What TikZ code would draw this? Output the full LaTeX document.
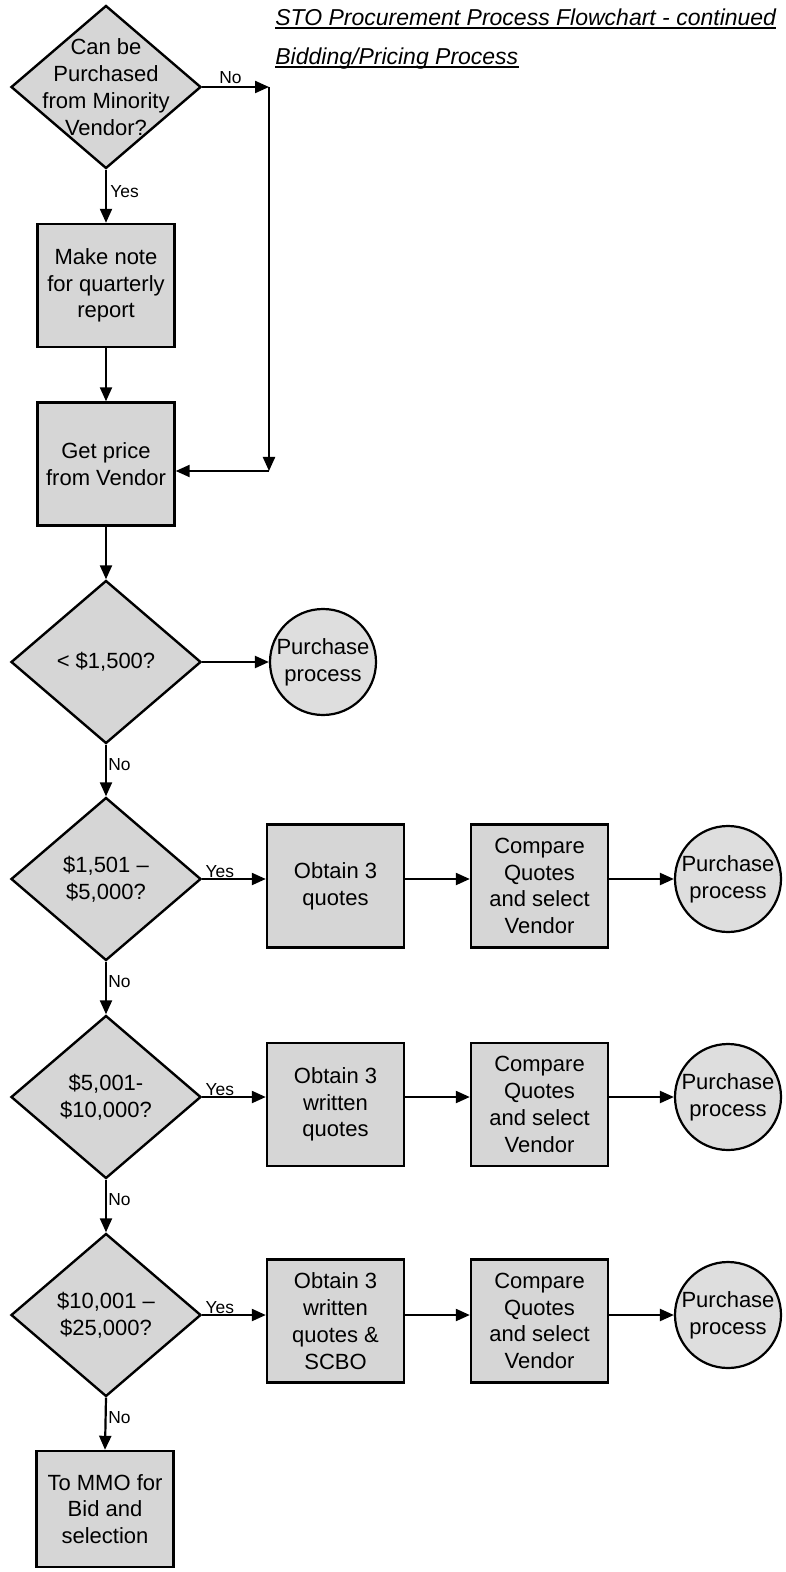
\documentclass[tikz,border=0pt]{standalone}
\usepackage{fontspec}
\setmainfont{Liberation Sans}
\usetikzlibrary{shapes.geometric,arrows.meta}
\begin{document}
\begin{tikzpicture}[x=0.5pt,y=-0.5pt,
  every node/.style={font=\fontsize{11}{13.4}\selectfont},
  dia/.style={draw, line width=1.2pt, fill=black!16, diamond, minimum width=95pt, minimum height=81.5pt, inner sep=0pt},
  box/.style={draw, line width=1.2pt, fill=black!16, rectangle, minimum width=68.5pt, minimum height=61.5pt, inner sep=0pt, align=center},
  circ/.style={draw, line width=1.1pt, fill=black!13, circle, minimum size=53pt, inner sep=0pt, align=center},
  txt/.style={align=center, inner sep=0pt},
  lbl/.style={font=\fontsize{8.7}{10}\selectfont, inner sep=0pt},
  ttl/.style={font=\fontsize{11.5}{14}\selectfont\itshape, inner sep=0pt, anchor=base west},
  arr/.style={draw, line width=1.1pt, -{Triangle[length=7pt,width=6pt]}},
  uln/.style={draw, line width=0.9pt}]

\useasboundingbox (0,0) rectangle (786,1572);

% titles
\node[ttl] (t1) at (275,26) {STO Procurement Process Flowchart - continued};
\node[ttl] (t2) at (275,65) {Bidding/Pricing Process};
\draw[uln] ([yshift=-1.2pt]t1.base west) -- ([yshift=-1.2pt]t1.base east);
\draw[uln] ([yshift=-1.2pt]t2.base west) -- ([yshift=-1.2pt]t2.base east);

% column
\node[dia] (d1) at (106,87) {};
\node[txt] at (d1) {Can be\\Purchased\\from Minority\\Vendor?};
\node[box] (mk) at (106,285.5) {Make note\\for quarterly\\report};
\node[box] (gp) at (106,464) {Get price\\from Vendor};
\node[dia] (d2) at (106,662) {};
\node[txt] at (d2) {< \$1,500?};
\node[circ] (p0) at (323,662) {Purchase\\process};

\node[dia] (d3) at (106,879) {};
\node[txt] at (d3) {\$1,501 --\\\$5,000?};
\node[box] (r1a) at (335.5,886) {Obtain 3\\quotes};
\node[box] (r1b) at (539.5,886) {Compare\\Quotes\\and select\\Vendor};
\node[circ] (r1c) at (728,879) {Purchase\\process};

\node[dia] (d4) at (106,1097) {};
\node[txt] at (d4) {\$5,001-\\\$10,000?};
\node[box] (r2a) at (335.5,1104.5) {Obtain 3\\written\\quotes};
\node[box] (r2b) at (539.5,1104.5) {Compare\\Quotes\\and select\\Vendor};
\node[circ] (r2c) at (728,1097) {Purchase\\process};

\node[dia] (d5) at (106,1315) {};
\node[txt] at (d5) {\$10,001 --\\\$25,000?};
\node[box] (r3a) at (335.5,1321) {Obtain 3\\written\\quotes \&\\SCBO};
\node[box] (r3b) at (539.5,1321) {Compare\\Quotes\\and select\\Vendor};
\node[circ] (r3c) at (728,1315) {Purchase\\process};

\node[box, minimum height=58pt] (mmo) at (105,1509) {To MMO for\\Bid and\\selection};

% top connectors
\coordinate (c1) at (269,87);
\coordinate (c2) at (269,471);
\draw[arr] (d1.east) -- (c1);
\draw[arr] (c1) -- (c2);
\draw[arr] (c2) -- (c2 -| gp.east);
\node[lbl, anchor=base west] at (219,84) {No};

\draw[arr] (d1.south) -- (mk.north);
\node[lbl, anchor=west] at ([xshift=2pt,yshift=-11pt]d1.south) {Yes};
\draw[arr] (mk.south) -- (gp.north);
\draw[arr] (gp.south) -- (d2.north);
\draw[arr] (d2.east) -- (p0.west);

\draw[arr] (d2.south) -- (d3.north);
\node[lbl, anchor=west] at ([xshift=1pt,yshift=-10pt]d2.south) {No};
\draw[arr] (d3.south) -- (d4.north);
\node[lbl, anchor=west] at ([xshift=1pt,yshift=-10pt]d3.south) {No};
\draw[arr] (d4.south) -- (d5.north);
\node[lbl, anchor=west] at ([xshift=1pt,yshift=-10pt]d4.south) {No};
\draw[arr] (d5.south) -- (mmo.north);
\node[lbl, anchor=west] at ([xshift=1pt,yshift=-10pt]d5.south) {No};

% rows
\draw[arr] (d3.east) -- (d3.east -| r1a.west);
\node[lbl, anchor=base west] at ([xshift=1.5pt,yshift=1pt]d3.east) {Yes};
\draw[arr] (d3.east -| r1a.east) -- (d3.east -| r1b.west);
\draw[arr] (d3.east -| r1b.east) -- (r1c.west);

\draw[arr] (d4.east) -- (d4.east -| r2a.west);
\node[lbl, anchor=base west] at ([xshift=1.5pt,yshift=1pt]d4.east) {Yes};
\draw[arr] (d4.east -| r2a.east) -- (d4.east -| r2b.west);
\draw[arr] (d4.east -| r2b.east) -- (r2c.west);

\draw[arr] (d5.east) -- (d5.east -| r3a.west);
\node[lbl, anchor=base west] at ([xshift=1.5pt,yshift=1pt]d5.east) {Yes};
\draw[arr] (d5.east -| r3a.east) -- (d5.east -| r3b.west);
\draw[arr] (d5.east -| r3b.east) -- (r3c.west);
\end{tikzpicture}
\end{document}
